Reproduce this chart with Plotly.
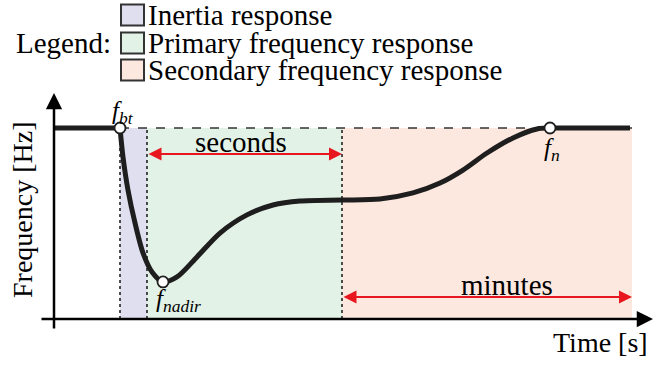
import plotly.graph_objects as go

# ---------------- data (time in a.u., frequency normalised: 1 = nominal, 0 = time axis)
flat_t = [0.0, 6.6]
flat_f = [1.0, 1.0]

curve_t = [6.6, 6.9, 7.4, 8.1, 8.9, 9.8, 10.9, 12.3, 14.3, 16.6, 19.3, 21.9, 24.6,
           28.8, 32.6, 35.9, 38.6, 40.9, 43.3, 45.9, 48.3, 49.6, 53.6, 57.6]
curve_f = [1.0, 0.848, 0.675, 0.503, 0.346, 0.246, 0.194, 0.220, 0.325, 0.450, 0.545,
           0.597, 0.618, 0.623, 0.628, 0.660, 0.712, 0.780, 0.869, 0.948, 0.995, 1.0,
           1.0, 1.0]

point_t = [6.6, 10.9, 49.6]
point_f = [1.0, 0.194, 1.0]
point_labels = ["<i>f</i><sub><i>bt</i></sub>", "<i>f</i><sub><i>nadir</i></sub>",
                "<i>f</i><sub><i>n</i></sub>"]

band_edges = [6.6, 9.3, 28.8, 57.8]          # inertia | primary | secondary
band_names = ["Inertia response", "Primary frequency response",
              "Secondary frequency response"]
band_colors = ["#e0dff0", "#e3f2e6", "#fde8df"]

span_labels = ["seconds", "minutes"]
span_levels = [0.864, 0.115]

# ---------------- geometry helpers (figure pixels -> data units)
W, H = 653, 365
def X(px):
    return (px - 54) / 10.0
def Y(py):
    return (319 - py) / 191.0

FONT = "Liberation Serif"
INK = "#1e1e1e"

fig = go.Figure()

# background bands
for i in range(3):
    fig.add_shape(type="rect", xref="x", yref="y", x0=band_edges[i], x1=band_edges[i + 1],
                  y0=0, y1=1, fillcolor=band_colors[i], line=dict(width=0), layer="below")
# dotted vertical separators
for e in band_edges[:3]:
    fig.add_shape(type="line", xref="x", yref="y", x0=e, x1=e, y0=0, y1=1,
                  line=dict(color="#222", width=1.6, dash="dot"), layer="below")
# dashed nominal level
fig.add_shape(type="line", xref="x", yref="y", x0=band_edges[0], x1=band_edges[3], y0=1, y1=1,
              line=dict(color="#333", width=1.4, dash="dash"), layer="below")

# legend boxes
leg_rows = [15, 43, 70]
for i, py in enumerate(leg_rows):
    fig.add_shape(type="rect", xref="x", yref="y", x0=X(121), x1=X(144),
                  y0=Y(py - 10.5), y1=Y(py + 10.5), fillcolor=band_colors[i],
                  line=dict(color="#333", width=2))

# curve
fig.add_trace(go.Scatter(x=flat_t, y=flat_f, mode="lines", line=dict(color=INK, width=5),
                         hoverinfo="skip", showlegend=False))
fig.add_trace(go.Scatter(x=curve_t, y=curve_f, mode="lines",
                         line=dict(color=INK, width=5, shape="spline", smoothing=0.8),
                         hoverinfo="skip", showlegend=False))
fig.add_trace(go.Scatter(x=point_t, y=point_f, mode="markers",
                         marker=dict(size=11, color="white", line=dict(color=INK, width=1.8)),
                         hoverinfo="skip", showlegend=False))

# axes with arrows
fig.add_annotation(x=X(653), y=0, ax=X(40), ay=0, xref="x", yref="y", axref="x", ayref="y",
                   showarrow=True, arrowhead=2, arrowsize=1.3, arrowwidth=2.5, arrowcolor="black",
                   text="", standoff=0, startstandoff=0)
fig.add_annotation(x=0, y=Y(93), ax=0, ay=Y(330), xref="x", yref="y", axref="x", ayref="y",
                   showarrow=True, arrowhead=2, arrowsize=1.3, arrowwidth=2.5, arrowcolor="black",
                   text="", standoff=0, startstandoff=0)
# red span arrows
spans = [(band_edges[1], band_edges[2]), (band_edges[2], band_edges[3])]
for (a, b), lvl in zip(spans, span_levels):
    fig.add_annotation(x=b, y=lvl, ax=a, ay=lvl, xref="x", yref="y", axref="x", ayref="y",
                       showarrow=True, arrowhead=2, arrowside="end+start", arrowsize=1.3,
                       arrowwidth=2, arrowcolor="#e8161e", text="", standoff=0, startstandoff=0)
span_text_pos = [(241, 142), (507, 285)]
for lab, (px, py) in zip(span_labels, span_text_pos):
    fig.add_annotation(x=X(px), y=Y(py), xref="x", yref="y", text=lab, showarrow=False,
                       xanchor="center", yanchor="middle", font=dict(family=FONT, size=29))

# point labels
lab_pos = [(123, 112), (178, 300), (552, 149)]
for lab, (px, py) in zip(point_labels, lab_pos):
    fig.add_annotation(x=X(px), y=Y(py), xref="x", yref="y", text=lab, showarrow=False,
                       xanchor="center", yanchor="middle", font=dict(family=FONT, size=25))

# axis titles
fig.add_annotation(x=X(22), y=Y(210), xref="x", yref="y", text="Frequency [Hz]", textangle=-90,
                   showarrow=False, xanchor="center", yanchor="middle",
                   font=dict(family=FONT, size=28))
fig.add_annotation(x=X(600), y=Y(342), xref="x", yref="y", text="Time [s]", showarrow=False,
                   xanchor="center", yanchor="middle", font=dict(family=FONT, size=28))

# legend text
fig.add_annotation(x=X(113), y=Y(43), xref="x", yref="y", text="Legend:", showarrow=False,
                   xanchor="right", yanchor="middle", font=dict(family=FONT, size=29))
for name, py in zip(band_names, leg_rows):
    fig.add_annotation(x=X(146), y=Y(py), xref="x", yref="y", text=name, showarrow=False,
                       xanchor="left", yanchor="middle", font=dict(family=FONT, size=29))

fig.update_layout(
    width=W, height=H, margin=dict(l=0, r=0, t=0, b=0),
    paper_bgcolor="white", plot_bgcolor="white",
    font=dict(family=FONT, color="black"),
    xaxis=dict(range=[X(0), X(W)], visible=False, fixedrange=True),
    yaxis=dict(range=[Y(H), Y(0)], visible=False, fixedrange=True),
    showlegend=False,
)

fig.write_html("out.html")
